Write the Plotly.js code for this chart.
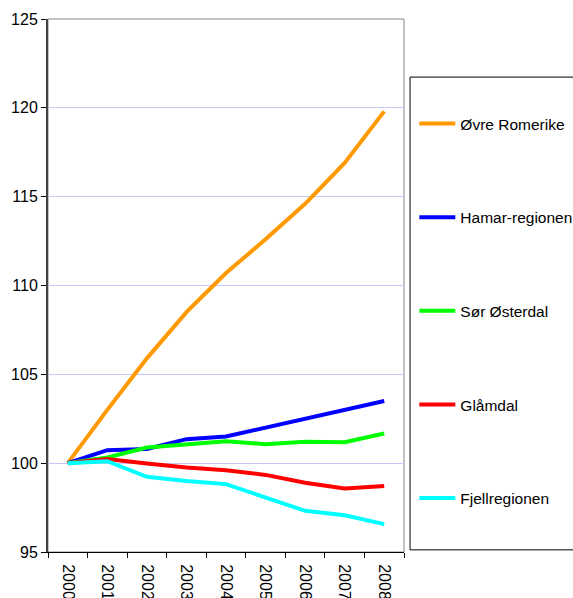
<!DOCTYPE html>
<html>
<head>
<meta charset="utf-8">
<script src="https://cdn.plot.ly/plotly-3.0.1.min.js"></script>
<style>html,body{margin:0;padding:0;background:#fff;}#chart{width:573px;height:598px;}</style>
</head>
<body>
<div id="chart"></div>
<script>
var years = ["2000","2001","2002","2003","2004","2005","2006","2007","2008"];
var seriesNames = ["Øvre Romerike","Hamar-regionen","Sør Østerdal","Glåmdal","Fjellregionen"];
var ovreRomerike = [100, 103.0, 105.9, 108.5, 110.7, 112.6, 114.6, 116.9, 119.8];
var hamarRegionen = [100, 100.73, 100.8, 101.35, 101.5, 102.0, 102.5, 103.0, 103.5];
var sorOsterdal = [100, 100.32, 100.88, 101.07, 101.24, 101.07, 101.2, 101.18, 101.67];
var glamdal = [100, 100.24, 99.98, 99.75, 99.6, 99.34, 98.9, 98.57, 98.72];
var fjellregionen = [100, 100.11, 99.23, 98.99, 98.82, 98.07, 97.32, 97.07, 96.57];
var yTicks = [95, 100, 105, 110, 115, 120, 125];

var colors = ["#ff9900", "#0000ff", "#00ff00", "#ff0000", "#00ffff"];
var allValues = [ovreRomerike, hamarRegionen, sorOsterdal, glamdal, fjellregionen];

var traces = allValues.map(function(vals, i){
  return {
    x: years, y: vals, type: "scatter", mode: "lines",
    name: seriesNames[i], legendgroup: "g" + i,
    line: {color: colors[i], width: 4},
    hoverinfo: "skip"
  };
});

var layout = {
  width: 573, height: 598,
  margin: {l: 48, r: 169, t: 19, b: 46, autoexpand: false},
  paper_bgcolor: "#ffffff", plot_bgcolor: "#ffffff",
  font: {family: "Liberation Sans, Arial, sans-serif", color: "#000000", size: 15},
  showlegend: true,
  legend: {
    x: 1.029, y: 0.835, xanchor: "left", yanchor: "top",
    borderwidth: 0, bgcolor: "rgba(0,0,0,0)",
    tracegroupgap: 70.5,
    font: {size: 15.5},
    itemwidth: 36
  },
  xaxis: {
    type: "category", range: [-0.5, 8.5],
    tickangle: 90, tickson: "boundaries",
    ticks: "outside", ticklen: 5, tickcolor: "#000000",
    ticklabelstandoff: 8,
    showline: true, linecolor: "#000000", linewidth: 1,
    showgrid: false, zeroline: false,
    tickfont: {size: 16}
  },
  yaxis: {
    range: [95, 125], tickvals: yTicks,
    ticks: "outside", ticklen: 5, tickcolor: "#000000",
    showline: true, linecolor: "#444444", linewidth: 2,
    showgrid: true, gridcolor: "#c8c8f8", gridwidth: 1,
    zeroline: false,
    tickfont: {size: 16}
  },
  shapes: [{
    type: "rect", xref: "paper", yref: "paper", x0: 0, x1: 1, y0: 0, y1: 1,
    line: {color: "#888888", width: 1}, layer: "below"
  }, {
    type: "rect", xref: "paper", yref: "paper",
    x0: 1.017, x1: 1.5, y0: 0.004, y1: 0.891,
    line: {color: "#000000", width: 1}, layer: "above"
  }]
};

Plotly.newPlot("chart", traces, layout, {displayModeBar: false, staticPlot: true});
</script>
</body>
</html>
